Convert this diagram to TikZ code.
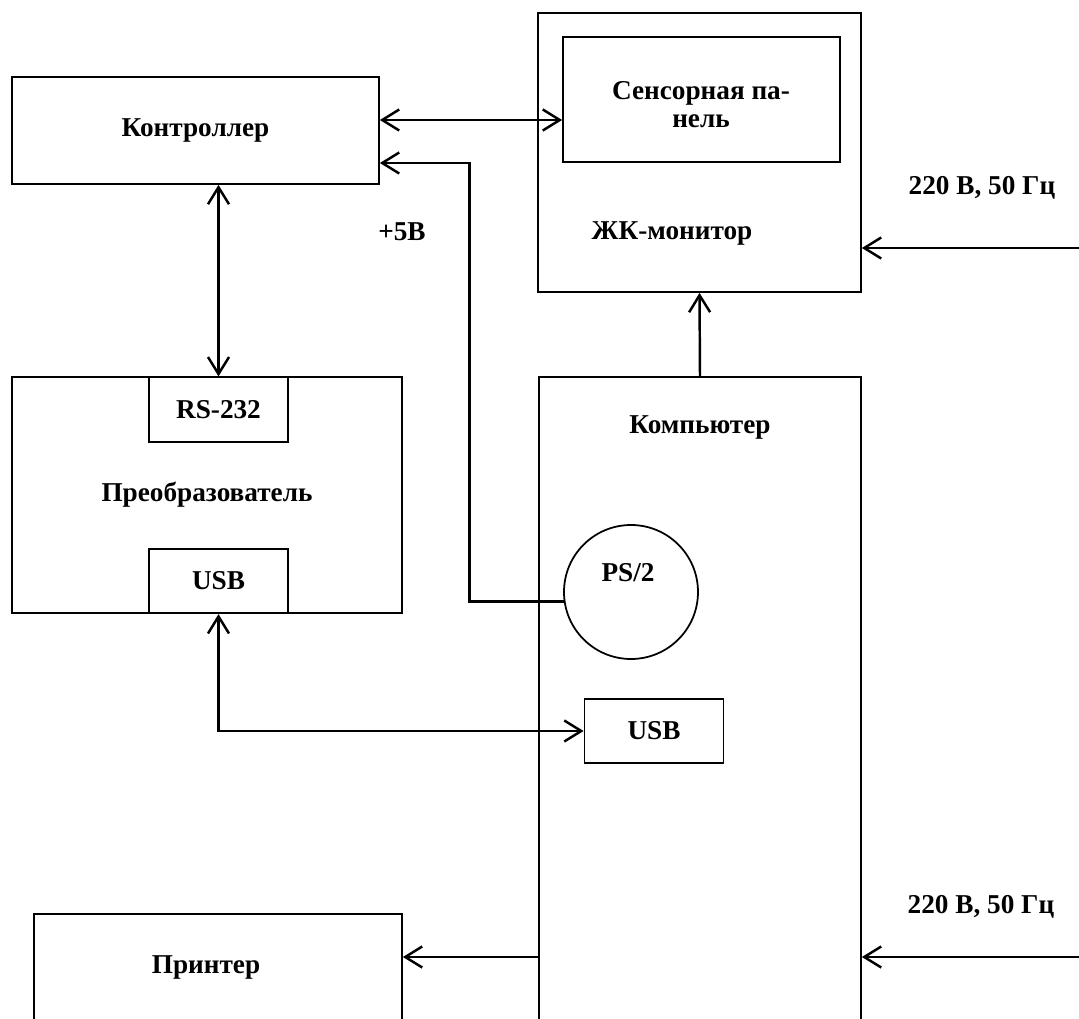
\documentclass[tikz,border=0pt]{standalone}
\usepackage{fontspec}
\setmainfont{Liberation Serif}
\usetikzlibrary{shapes,arrows.meta,positioning,calc}

\begin{document}
\begin{tikzpicture}[
    every node/.style={font=\fontsize{15.5}{16}\selectfont\bfseries},
    block/.style={
        rectangle, draw=black, line width=1.0pt, inner sep=0pt
    },
    port/.style={
        rectangle, draw=black, fill=white, line width=1.0pt,
        minimum width=2.78cm, minimum height=1.29cm, inner sep=0pt
    },
    socket/.style={
        circle, draw=black, line width=1.0pt,
        minimum size=2.68cm, inner sep=0pt
    },
    lbl/.style={inner sep=0pt},
    arrow/.style={-{Straight Barb[length=3.4mm,width=4.2mm]}, line width=1.4pt},
    biarrow/.style={{Straight Barb[length=3.4mm,width=4.2mm]}-{Straight Barb[length=3.4mm,width=4.2mm]}, line width=1.4pt}
]

\useasboundingbox (0,0) rectangle (21.58,-20.38);
\clip (0,0) rectangle (21.58,-20.38);

% Controller
\node[block, minimum width=7.34cm, minimum height=2.14cm] (ctrl) at (3.91,-2.61) {Контроллер};

% Monitor with touch panel
\node[block, minimum width=6.46cm, minimum height=5.58cm] (mon) at (13.99,-3.05) {};
\node[block, minimum width=5.54cm, minimum height=2.5cm] (touch) at (14.03,-1.99) {};
\node[lbl, align=center] (touchlbl) at (14.02,-2.1) {Сенсорная па-\\нель};
\node[lbl] (monlbl) at (13.44,-4.66) {ЖК-монитор};

% Converter
\node[block, minimum width=7.8cm, minimum height=4.72cm] (conv) at (4.14,-9.9) {Преобразователь};
\node[port] (rs) at (4.37,-8.19) {RS-232};
\node[port] (usba) at (4.37,-11.62) {USB};

% Computer
\node[block, minimum width=6.44cm, minimum height=13.26cm] (comp) at (14.0,-14.17) {};
\node[lbl] (complbl) at (14.0,-8.54) {Компьютер};
\node[socket] (ps2) at (12.62,-11.84) {};
\node[lbl] (ps2lbl) at (12.56,-11.46) {PS/2};
\node[port] (usbb) at (13.08,-14.62) {USB};

% Printer
\node[block, minimum width=7.36cm, minimum height=2.52cm] (prn) at (4.36,-19.54) {};
\node[lbl] (prnlbl) at (4.12,-19.34) {Принтер};

% Mains
\coordinate (mainsa) at (21.58,-4.96);
\coordinate (mainsb) at (21.58,-19.14);
\node[lbl] (voltsa) at (19.64,-3.76) {220 В, 50 Гц};
\node[lbl] (voltsb) at (19.62,-18.14) {220 В, 50 Гц};
\node[lbl] (plus5) at (8.04,-4.64) {+5В};

% Arrows
\draw[biarrow] ([yshift=2.1mm]ctrl.east) -- ([yshift=2.1mm]ctrl.east -| touch.west);
\draw[arrow] (ps2.188) -- ++(-1.89,0) |- ([yshift=-6.5mm]ctrl.east);
\draw[biarrow] (rs.north) -- (rs.north |- ctrl.south);
\draw[biarrow] (usba.south) |- (usbb.west);
\draw[arrow] (comp.north) -- (mon.south);
\draw[arrow] (mainsa) -- (mainsa -| mon.east);
\draw[arrow] (mainsb) -- (mainsb -| comp.east);
\draw[arrow] (mainsb -| comp.west) -- (mainsb -| prn.east);

\end{tikzpicture}
\end{document}
